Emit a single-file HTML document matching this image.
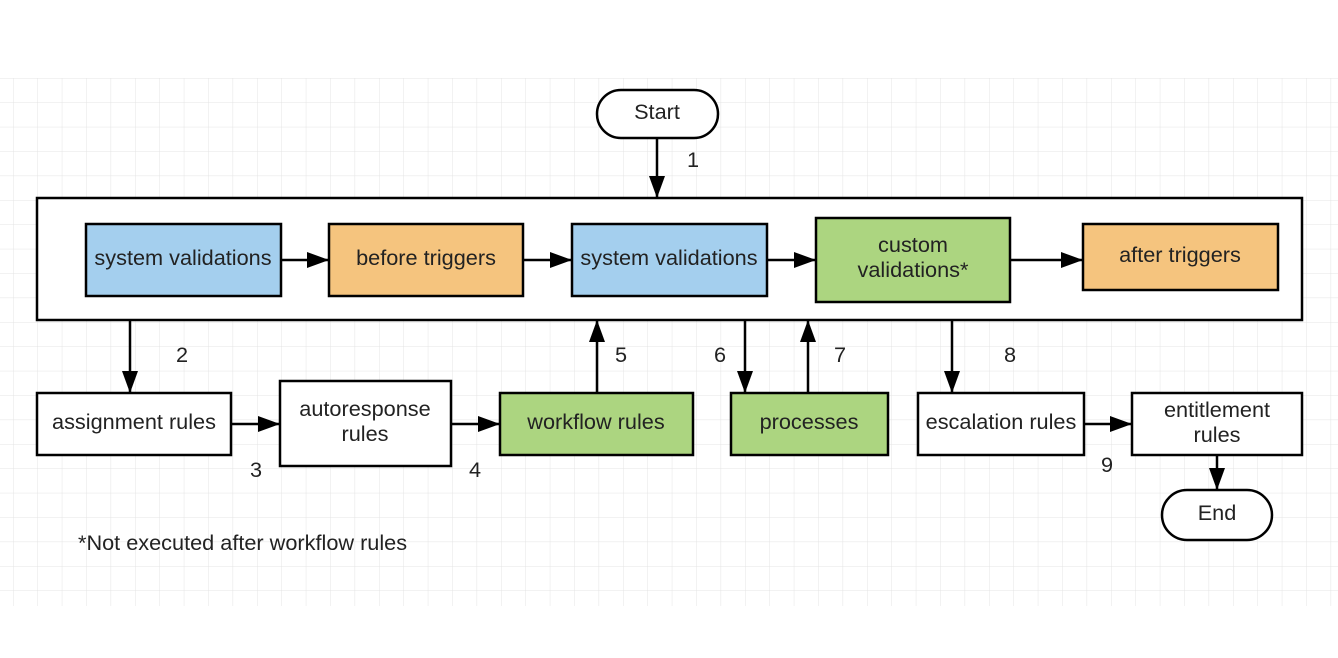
<!DOCTYPE html>
<html><head><style>
html,body{margin:0;padding:0;background:#fff;}
svg{display:block;}
text{font-family:"Liberation Sans",sans-serif;font-size:21.7px;fill:#222;}
</style></head><body>
<svg width="1338" height="658" viewBox="0 0 1338 658" xmlns="http://www.w3.org/2000/svg">
<defs>
<pattern id="g" x="13" y="78" width="24.4" height="24.4" patternUnits="userSpaceOnUse">
<path d="M0 0H24.4M0 0V24.4" stroke="#e4e4e4" stroke-width="1" fill="none"/>
</pattern>
<marker id="b" markerWidth="22" markerHeight="16" refX="21" refY="8" orient="auto" markerUnits="userSpaceOnUse">
<path d="M0 0L22 8L0 16z" fill="#000"/>
</marker>
</defs>
<rect x="0" y="78" width="1338" height="528" fill="url(#g)"/>
<g stroke="#000" stroke-width="2.5" fill="none">
<rect x="597" y="90" width="121" height="48" rx="24" fill="#fff"/>
<rect x="37" y="198" width="1265" height="122" fill="#fff"/>
<rect x="86" y="224" width="195" height="72" fill="#a4cfee"/>
<rect x="329" y="224" width="194" height="72" fill="#f5c47e"/>
<rect x="572" y="224" width="195" height="72" fill="#a4cfee"/>
<rect x="816" y="218" width="194" height="84" fill="#acd580"/>
<rect x="1083" y="224" width="195" height="66" fill="#f5c47e"/>
<rect x="37" y="393" width="194" height="62" fill="#fff"/>
<rect x="280" y="381" width="171" height="85" fill="#fff"/>
<rect x="500" y="393" width="193" height="62" fill="#acd580"/>
<rect x="731" y="393" width="157" height="62" fill="#acd580"/>
<rect x="918" y="393" width="166" height="62" fill="#fff"/>
<rect x="1132" y="393" width="170" height="62" fill="#fff"/>
<rect x="1162" y="490" width="110" height="50" rx="25" fill="#fff"/>
</g>
<g stroke="#000" stroke-width="2.5" fill="none" marker-end="url(#b)">
<path d="M657 139V197"/>
<path d="M282 260H328"/>
<path d="M524 260H571"/>
<path d="M768 260H815"/>
<path d="M1011 260H1082"/>
<path d="M130 321V392"/>
<path d="M232 424H279"/>
<path d="M452 424H499"/>
<path d="M597 392V321"/>
<path d="M745 321V392"/>
<path d="M808 392V321"/>
<path d="M952 321V392"/>
<path d="M1085 424H1131"/>
<path d="M1217 456V489"/>
</g>
<g text-anchor="middle">
<text x="657" y="119">Start</text>
<text x="183" y="265">system validations</text>
<text x="426" y="265">before triggers</text>
<text x="669" y="265">system validations</text>
<text x="913" y="252">custom</text>
<text x="913" y="277">validations*</text>
<text x="1180" y="262">after triggers</text>
<text x="134" y="429">assignment rules</text>
<text x="365" y="416">autoresponse</text>
<text x="365" y="441">rules</text>
<text x="596" y="429">workflow rules</text>
<text x="809" y="429">processes</text>
<text x="1001" y="429">escalation rules</text>
<text x="1217" y="417">entitlement</text>
<text x="1217" y="442">rules</text>
<text x="1217" y="520">End</text>
<text x="693" y="167">1</text>
<text x="182" y="362">2</text>
<text x="256" y="477">3</text>
<text x="475" y="477">4</text>
<text x="621" y="362">5</text>
<text x="720" y="362">6</text>
<text x="840" y="362">7</text>
<text x="1010" y="362">8</text>
<text x="1107" y="472">9</text>
</g>
<text x="78" y="550">*Not executed after workflow rules</text>
</svg>
</body></html>
